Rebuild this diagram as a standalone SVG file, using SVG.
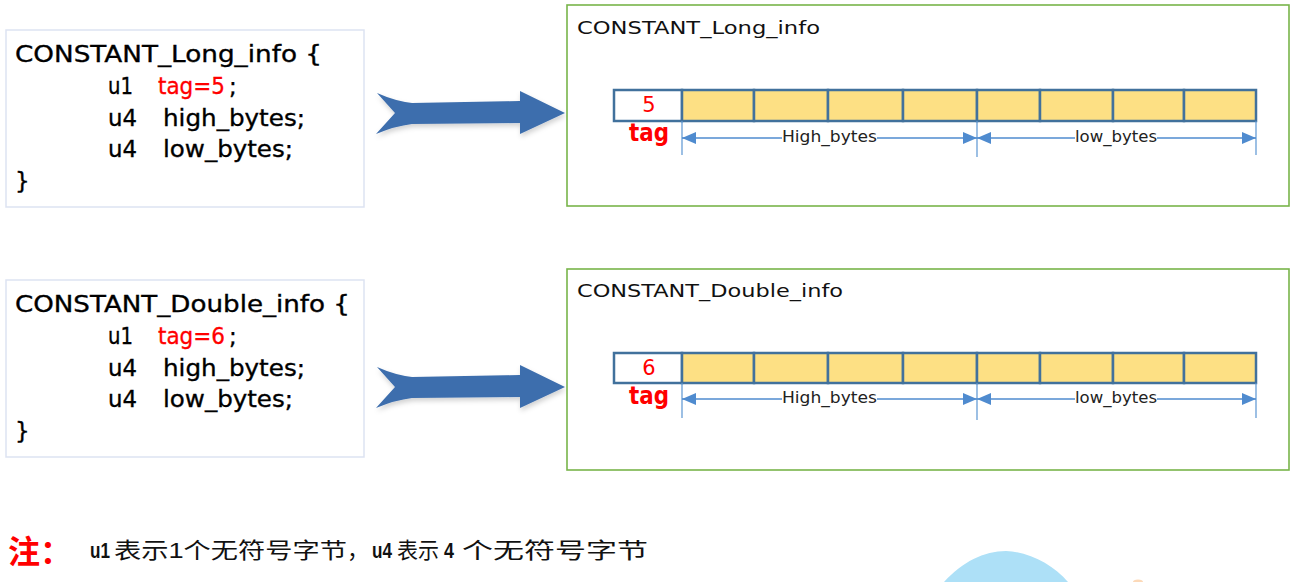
<svg xmlns="http://www.w3.org/2000/svg" width="1298" height="582" viewBox="0 0 1298 582">
<style>
.code{font-family:"DejaVu Sans","Liberation Sans",sans-serif;font-size:23px;fill:#000;stroke:#000;stroke-width:0.35}
.red{fill:#ff0000;stroke:#ff0000}
.lbox{fill:#fff;stroke:#dde3f2;stroke-width:1.5}
.gbox{fill:#fff;stroke:#78b54a;stroke-width:1.6}
.title{font-family:"DejaVu Sans","Liberation Sans",sans-serif;font-size:18px;fill:#111}
.cell{fill:#fde084;stroke:#41719c;stroke-width:2.5}
.tagcell{fill:#fff;stroke:#41719c;stroke-width:2.5}
.digit{font-family:"DejaVu Sans","Liberation Sans",sans-serif;font-size:21px;fill:#ff0000;text-anchor:middle}
.tag{font-family:"DejaVu Sans","Liberation Sans",sans-serif;font-size:24px;font-weight:bold;fill:#ff0000}
.dim{stroke:#4f8bcf;stroke-width:1.4;fill:none}
.tick{stroke:#5b95d2;stroke-width:1.2}
.lbl{font-family:"DejaVu Sans","Liberation Sans",sans-serif;font-size:16px;fill:#222;text-anchor:middle}
.arrow{fill:#3d6ead}
.note{font-family:"Liberation Sans","Noto Sans CJK SC",sans-serif;font-size:22px;fill:#111}
.b{font-weight:bold}
</style>
<defs>
<marker id="ah" viewBox="0 0 14 12" refX="14" refY="6" markerWidth="14" markerHeight="12" markerUnits="userSpaceOnUse" orient="auto-start-reverse">
<path d="M0,0 L14,6 L0,12 Z" fill="#4f8bcf"/>
</marker>
<filter id="sh" x="-10%" y="-20%" width="130%" height="160%">
<feDropShadow dx="1" dy="3" stdDeviation="2.5" flood-color="#000" flood-opacity="0.18"/>
</filter>
</defs>

<!-- Left struct 1 -->
<g id="struct-long">
<rect class="lbox" x="6" y="30" width="358" height="177"/>
<text class="code" x="15" y="62" textLength="307" lengthAdjust="spacingAndGlyphs">CONSTANT_Long_info {</text>
<text class="code" x="108" y="94" textLength="25" lengthAdjust="spacingAndGlyphs">u1</text>
<text class="code red" x="158" y="94" textLength="67" lengthAdjust="spacingAndGlyphs">tag=5</text>
<text class="code" x="229" y="94">;</text>
<text class="code" x="108" y="126" textLength="29" lengthAdjust="spacingAndGlyphs">u4</text>
<text class="code" x="163" y="126" textLength="142" lengthAdjust="spacingAndGlyphs">high_bytes;</text>
<text class="code" x="108" y="157" textLength="29" lengthAdjust="spacingAndGlyphs">u4</text>
<text class="code" x="163" y="157" textLength="130" lengthAdjust="spacingAndGlyphs">low_bytes;</text>
<text class="code" x="15" y="189">}</text>
</g>

<!-- Left struct 2 -->
<g id="struct-double">
<rect class="lbox" x="6" y="280" width="358" height="177"/>
<text class="code" x="15" y="312" textLength="335" lengthAdjust="spacingAndGlyphs">CONSTANT_Double_info {</text>
<text class="code" x="108" y="344" textLength="25" lengthAdjust="spacingAndGlyphs">u1</text>
<text class="code red" x="158" y="344" textLength="67" lengthAdjust="spacingAndGlyphs">tag=6</text>
<text class="code" x="229" y="344">;</text>
<text class="code" x="108" y="376" textLength="29" lengthAdjust="spacingAndGlyphs">u4</text>
<text class="code" x="163" y="376" textLength="142" lengthAdjust="spacingAndGlyphs">high_bytes;</text>
<text class="code" x="108" y="407" textLength="29" lengthAdjust="spacingAndGlyphs">u4</text>
<text class="code" x="163" y="407" textLength="130" lengthAdjust="spacingAndGlyphs">low_bytes;</text>
<text class="code" x="15" y="439">}</text>
</g>

<!-- Connectors (block arrows) -->
<g id="connectors">
<path class="arrow" filter="url(#sh)" d="M377,93 Q395,101 412,103 L520,101 L520,91 L565,113 L520,134 L520,123 L412,124 Q395,126 376,134 L395,113 Z"/>
<path class="arrow" filter="url(#sh)" d="M377,367 Q395,375 412,377 L520,375 L520,365 L565,387 L520,408 L520,397 L412,398 Q395,400 376,408 L395,387 Z"/>
</g>

<!-- Right layout 1 -->
<g id="layout-long">
<rect class="gbox" x="567" y="5" width="722" height="201"/>
<text class="title" x="577" y="34" textLength="243" lengthAdjust="spacingAndGlyphs">CONSTANT_Long_info</text>
<rect class="tagcell" x="614" y="90" width="68" height="31"/>
<rect class="cell" x="682" y="90" width="72" height="31"/>
<rect class="cell" x="754" y="90" width="74" height="31"/>
<rect class="cell" x="828" y="90" width="75" height="31"/>
<rect class="cell" x="903" y="90" width="74" height="31"/>
<rect class="cell" x="977" y="90" width="63" height="31"/>
<rect class="cell" x="1040" y="90" width="73" height="31"/>
<rect class="cell" x="1113" y="90" width="71" height="31"/>
<rect class="cell" x="1184" y="90" width="72" height="31"/>
<text class="digit" x="649" y="112">5</text>
<text class="tag" x="629" y="141" textLength="40" lengthAdjust="spacingAndGlyphs">tag</text>
<line class="tick" x1="682" y1="121" x2="682" y2="155"/>
<line class="tick" x1="977" y1="121" x2="977" y2="157"/>
<line class="tick" x1="1256" y1="121" x2="1256" y2="155"/>
<line class="dim" x1="682" y1="138" x2="977" y2="138" marker-start="url(#ah)" marker-end="url(#ah)"/>
<line class="dim" x1="977" y1="138" x2="1256" y2="138" marker-start="url(#ah)" marker-end="url(#ah)"/>
<rect x="782" y="128" width="95" height="18" fill="#fff"/>
<text class="lbl" x="829.5" y="142" textLength="95" lengthAdjust="spacingAndGlyphs">High_bytes</text>
<rect x="1075" y="128" width="82" height="18" fill="#fff"/>
<text class="lbl" x="1116" y="142" textLength="82" lengthAdjust="spacingAndGlyphs">low_bytes</text>
</g>

<!-- Right layout 2 -->
<g id="layout-double">
<rect class="gbox" x="567" y="269" width="722" height="201"/>
<text class="title" x="577" y="297" textLength="266" lengthAdjust="spacingAndGlyphs">CONSTANT_Double_info</text>
<rect class="tagcell" x="614" y="353" width="68" height="30"/>
<rect class="cell" x="682" y="353" width="72" height="30"/>
<rect class="cell" x="754" y="353" width="74" height="30"/>
<rect class="cell" x="828" y="353" width="75" height="30"/>
<rect class="cell" x="903" y="353" width="74" height="30"/>
<rect class="cell" x="977" y="353" width="63" height="30"/>
<rect class="cell" x="1040" y="353" width="73" height="30"/>
<rect class="cell" x="1113" y="353" width="71" height="30"/>
<rect class="cell" x="1184" y="353" width="72" height="30"/>
<text class="digit" x="649" y="375">6</text>
<text class="tag" x="629" y="404" textLength="40" lengthAdjust="spacingAndGlyphs">tag</text>
<line class="tick" x1="682" y1="383" x2="682" y2="418"/>
<line class="tick" x1="977" y1="383" x2="977" y2="420"/>
<line class="tick" x1="1256" y1="383" x2="1256" y2="418"/>
<line class="dim" x1="682" y1="399" x2="977" y2="399" marker-start="url(#ah)" marker-end="url(#ah)"/>
<line class="dim" x1="977" y1="399" x2="1256" y2="399" marker-start="url(#ah)" marker-end="url(#ah)"/>
<rect x="782" y="389" width="95" height="18" fill="#fff"/>
<text class="lbl" x="829.5" y="403" textLength="95" lengthAdjust="spacingAndGlyphs">High_bytes</text>
<rect x="1075" y="389" width="82" height="18" fill="#fff"/>
<text class="lbl" x="1116" y="403" textLength="82" lengthAdjust="spacingAndGlyphs">low_bytes</text>
</g>

<!-- Note -->
<g id="note">
<text x="8" y="563" font-family="'Noto Sans CJK SC',sans-serif" font-size="32" font-weight="bold" fill="#ff0000">注：</text>
<text class="note b" x="90" y="558" textLength="20" lengthAdjust="spacingAndGlyphs">u1</text>
<text class="note" x="114" y="558" textLength="233" lengthAdjust="spacingAndGlyphs">表示1个无符号字节</text>
<text class="note" x="347" y="558">，</text>
<text class="note b" x="372" y="558" textLength="20" lengthAdjust="spacingAndGlyphs">u4</text>
<text class="note" x="397" y="558" textLength="42" lengthAdjust="spacingAndGlyphs">表示</text>
<text class="note b" x="444" y="558" textLength="10" lengthAdjust="spacingAndGlyphs">4</text>
<text class="note" x="462" y="558" textLength="186" lengthAdjust="spacingAndGlyphs">个无符号字节</text>
</g>

<!-- partial watermark shape at bottom edge -->
<path d="M944,582 C962,562 984,551 1006,551 C1030,552 1053,565 1068,582 Z" fill="#ade0f7"/>
<ellipse cx="1138" cy="582" rx="5" ry="2.5" fill="#fcd9b8"/>
</svg>
